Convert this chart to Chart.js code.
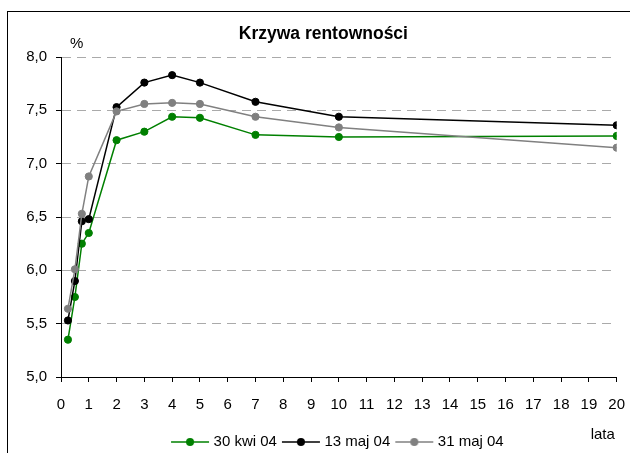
<!DOCTYPE html>
<html>
<head>
<meta charset="utf-8">
<style>
html,body{margin:0;padding:0;background:#fff;}
#wrap{position:relative;width:630px;height:453px;}
</style>
<script src="https://cdn.jsdelivr.net/npm/chart.js@4.4.1/dist/chart.umd.min.js"></script>
</head>
<body>
<div id="wrap"><canvas id="c" width="630" height="453"></canvas></div>
<script>
// ---- data ----
const maturities = [0.25, 0.5, 0.75, 1, 2, 3, 4, 5, 7, 10, 20];
const seriesNames = ['30 kwi 04', '13 maj 04', '31 maj 04'];
const kwi30 = [5.35, 5.75, 6.25, 6.35, 7.22, 7.30, 7.44, 7.43, 7.27, 7.25, 7.26];
const maj13 = [5.53, 5.90, 6.46, 6.48, 7.53, 7.76, 7.83, 7.76, 7.58, 7.44, 7.36];
const maj31 = [5.64, 6.01, 6.53, 6.88, 7.49, 7.56, 7.57, 7.56, 7.44, 7.34, 7.15];
const yTickLabels = ['5,0', '5,5', '6,0', '6,5', '7,0', '7,5', '8,0'];
const titleText = 'Krzywa rentowności';
const yUnit = '%';
const xUnit = 'lata';

// ---- styling ----
const FONT = "'Liberation Sans', Arial, sans-serif";
const colors = ['#008000', '#000000', '#808080'];
const seriesValues = [kwi30, maj13, maj31];

const legendImgs = colors.map(c => {
  const cv = document.createElement('canvas');
  cv.width = 40; cv.height = 10;
  const g = cv.getContext('2d');
  g.strokeStyle = c; g.lineWidth = 1.5;
  g.beginPath(); g.moveTo(1, 5); g.lineTo(39, 5); g.stroke();
  g.fillStyle = c;
  g.beginPath(); g.arc(20, 5, 4, 0, Math.PI * 2); g.fill();
  return cv;
});

const datasets = seriesNames.map((name, i) => ({
  label: name,
  data: maturities.map((x, j) => ({ x: x, y: seriesValues[i][j] })),
  borderColor: colors[i],
  backgroundColor: colors[i],
  pointBackgroundColor: colors[i],
  pointBorderColor: colors[i],
  borderWidth: 1.5,
  pointRadius: 3.6,
  pointBorderWidth: 1,
  tension: 0,
  fill: false,
  order: 3 - i
}));

const decorPlugin = {
  id: 'decor',
  afterLayout(chart) {
    // let the y tick labels use the space left of the scale box
    chart.scales.y.left = 0;
  },
  beforeDraw(chart) {
    const c = chart.ctx;
    c.save();
    c.fillStyle = '#000';
    c.fillRect(7, 11, 1, 453 - 11);
    c.fillRect(7, 11, 630 - 7, 1);
    c.restore();
  },
  afterDraw(chart) {
    const c = chart.ctx;
    const a = chart.chartArea;
    c.save();
    c.fillStyle = '#000';
    c.font = '15px ' + FONT;
    c.textAlign = 'left';
    c.textBaseline = 'alphabetic';
    c.fillText(yUnit, a.left + 9, a.top - 9);
    c.fillText(xUnit, a.right - 26, a.bottom + 62);
    c.restore();
  }
};

new Chart(document.getElementById('c').getContext('2d'), {
  type: 'line',
  data: { datasets: datasets },
  options: {
    responsive: false,
    animation: false,
    devicePixelRatio: 1,
    layout: { padding: { left: 30, right: 13.3, top: 12, bottom: -6.5 } },
    plugins: {
      title: {
        display: true,
        text: titleText,
        color: '#000',
        font: { family: FONT, size: 17.5, weight: 'bold' },
        padding: { top: 11.2, bottom: 12.8 }
      },
      legend: {
        display: true,
        position: 'bottom',
        fullSize: false,
        align: 'center',
        labels: {
          usePointStyle: true,
          pointStyleWidth: 32,
          padding: 8,
          color: '#000',
          font: { family: FONT, size: 15 },
          generateLabels(chart) {
            const items = Chart.defaults.plugins.legend.labels.generateLabels(chart);
            items.sort((p, q) => p.datasetIndex - q.datasetIndex);
            items.forEach(it => { it.pointStyle = legendImgs[it.datasetIndex]; });
            return items;
          }
        }
      },
      tooltip: { enabled: false }
    },
    scales: {
      x: {
        type: 'linear',
        min: 0,
        max: 20,
        ticks: {
          stepSize: 1,
          autoSkip: false,
          maxRotation: 0,
          padding: 14,
          color: '#000',
          font: { family: FONT, size: 15 }
        },
        grid: {
          display: true,
          drawOnChartArea: false,
          drawTicks: true,
          tickLength: 5,
          tickColor: '#000',
          tickWidth: 1
        },
        border: { display: true, color: '#000', width: 1 },
        afterFit(s) {
          s.height = 49.5;
          s.paddingLeft = 0;
          s.paddingRight = 0;
        }
      },
      y: {
        type: 'linear',
        min: 5,
        max: 8,
        ticks: {
          stepSize: 0.5,
          padding: 9,
          color: '#000',
          font: { family: FONT, size: 15 },
          callback(v) {
            const k = Math.round((v - 5) / 0.5);
            return yTickLabels[k];
          }
        },
        grid: {
          display: true,
          drawOnChartArea: true,
          drawTicks: true,
          tickLength: 5,
          tickColor: '#000',
          tickWidth: 1,
          lineWidth: 1,
          color(ctx) { return (ctx.tick && ctx.tick.value === 5) ? 'rgba(0,0,0,0)' : '#aaaaaa'; }
        },
        border: { display: true, color: '#000', width: 1, dash: [9, 6] },
        afterFit(s) { s.width = 31; }
      }
    }
  },
  plugins: [decorPlugin]
});
</script>
</body>
</html>
